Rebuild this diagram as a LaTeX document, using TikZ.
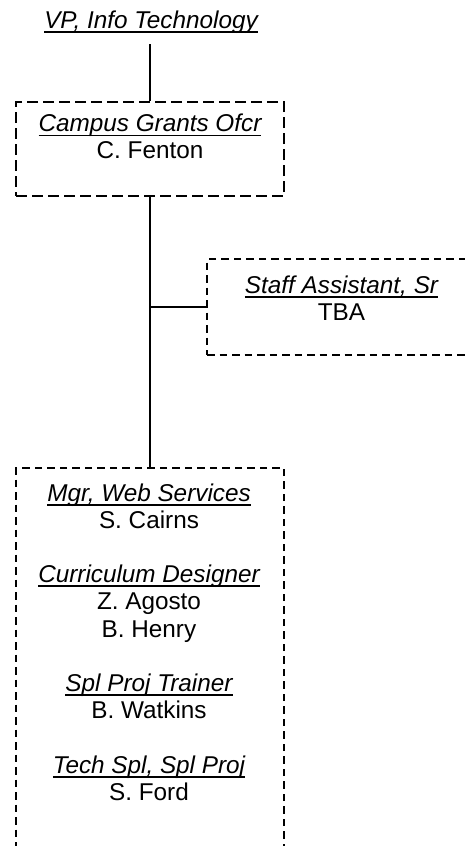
\documentclass[tikz,border=0pt]{standalone}
\usepackage{fontspec}
\setmainfont{Liberation Sans}
\newcommand\ttl[1]{\setbox0\hbox{\itshape #1}\rlap{\rule[-4.7pt]{\wd0}{1.9pt}}\box0}
\begin{document}
\begin{tikzpicture}[x=1pt,y=-1pt,
  bigbox/.style={draw,line width=1.9pt,dash pattern=on 11pt off 5pt,inner sep=0pt},
  smallbox/.style={draw,line width=1.5pt,dash pattern=on 7.5pt off 5pt,inner sep=0pt},
  txt/.style={anchor=base,inner sep=0pt,font=\fontsize{24.3}{27.2}\selectfont},
  conn/.style={line width=1.9pt}]
\useasboundingbox (0,0) rectangle (465,846);
\clip (0,0) rectangle (465,846);
% boxes
\node[bigbox,minimum width=268pt,minimum height=94pt] (box1) at (150,149) {};
\node[smallbox,minimum width=269pt,minimum height=96pt] (box2) at (341.5,307) {};
\node[smallbox,minimum width=268pt,minimum height=440pt] (box3) at (150,688) {};
% texts
\node[txt] (vp) at (151,28) {\ttl{VP, Info Technology}};
\node[txt] (t1) at (150,131.7) {\begin{tabular}[t]{@{}c@{}}\ttl{Campus Grants Ofcr}\\ C. Fenton\end{tabular}};
\node[txt] (t2) at (341.5,293.3) {\begin{tabular}[t]{@{}c@{}}\ttl{Staff Assistant, Sr}\\ TBA\end{tabular}};
\node[txt] (t3) at (149,501) {\begin{tabular}[t]{@{}c@{}}\ttl{Mgr, Web Services}\\ S. Cairns\\ \\ \ttl{Curriculum Designer}\\ Z. Agosto\\ B. Henry\\ \\ \ttl{Spl Proj Trainer}\\ B. Watkins\\ \\ \ttl{Tech Spl, Spl Proj}\\ S. Ford\end{tabular}};
% connectors
\draw[conn] ([yshift=-16pt]vp.base -| box1.north) -- (box1.north);
\draw[conn] (box1.south) -- (box3.north);
\draw[line width=1.5pt] (box1.south |- box2.west) -- (box2.west);
\end{tikzpicture}
\end{document}
